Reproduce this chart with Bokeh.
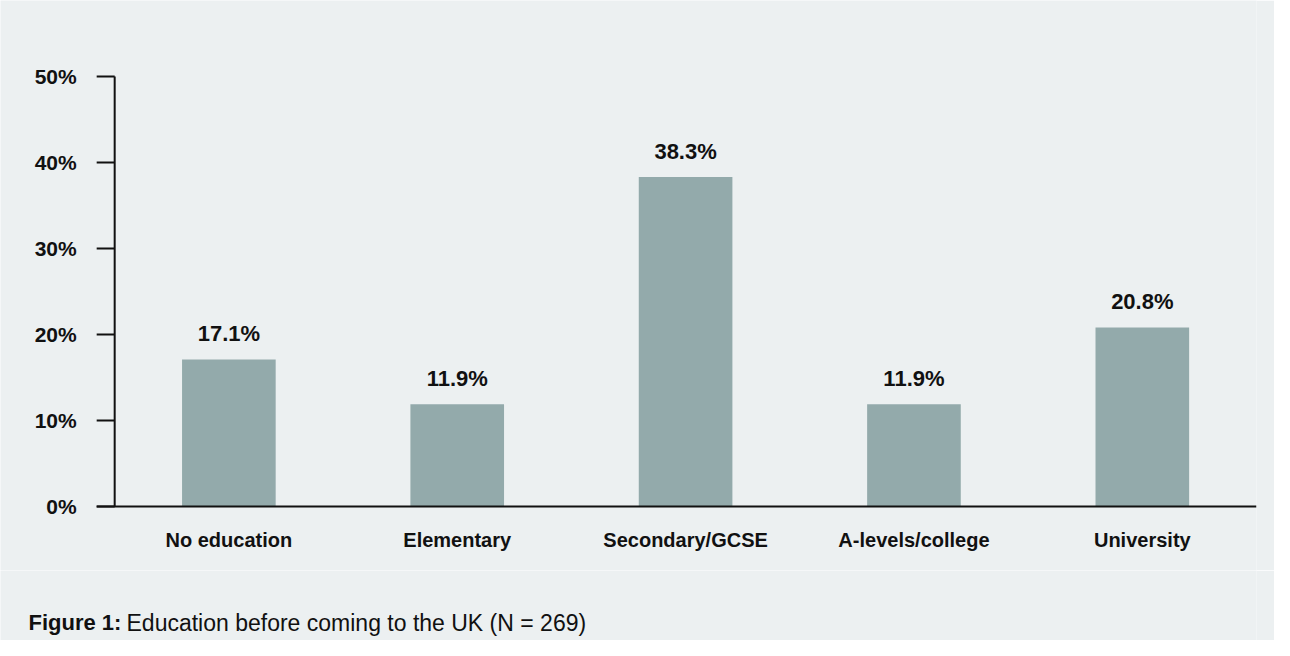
from bokeh.plotting import figure
from bokeh.layouts import column
from bokeh.core.properties import value
from bokeh.models import ColumnDataSource
from bokeh.embed import file_html
from bokeh.resources import INLINE

categories = ["No education", "Elementary", "Secondary/GCSE", "A-levels/college", "University"]
percentages = [17.1, 11.9, 38.3, 11.9, 20.8]
y_ticks = [0, 10, 20, 30, 40, 50]
y_tick_labels = ["0%", "10%", "20%", "30%", "40%", "50%"]
caption_bold = "Figure 1:"
caption_rest = "Education before coming to the UK (N = 269)"

BG = "#ECF0F1"
BAR = "#93AAAB"
INK = "#111111"
FONT = "Liberation Sans"
W = 1274
H_CHART = 570
FRAME_RIGHT_PAD = 18

xs = list(range(len(categories)))
src = ColumnDataSource(dict(x=xs, y=percentages,
                            lbl=[f"{v:.1f}%" for v in percentages]))

# ranges chosen so the plot frame fills the whole canvas (nothing gets clipped)
X0, X1 = -1.0, 4.5
SPINE_X = -0.5                                   # left edge of the first category slot
PX_PER_UNIT = (W - FRAME_RIGHT_PAD) / (X1 - X0)
TICK_LEN = 18 / PX_PER_UNIT
PX_PER_PCT = 8.6
TOP_PAD_PX, BOTTOM_PAD_PX = 76, 64
Y0 = -BOTTOM_PAD_PX / PX_PER_PCT
Y1 = y_ticks[-1] + TOP_PAD_PX / PX_PER_PCT

p = figure(width=W, height=H_CHART, output_backend="svg", toolbar_location=None,
           x_range=(X0, X1), y_range=(Y0, Y1),
           background_fill_color=BG, border_fill_color=BG,
           min_border_left=0, min_border_right=FRAME_RIGHT_PAD,
           min_border_top=0, min_border_bottom=0)
p.outline_line_color = None
p.grid.grid_line_color = None
p.axis.visible = False

p.vbar(x="x", top="y", width=0.41, bottom=0, source=src, color=BAR, line_color=None)
p.text(x="x", y="y", text="lbl", source=src, text_align="center", text_baseline="alphabetic",
       y_offset=-26, text_font=value(FONT), text_font_style="bold", text_font_size="22px",
       text_color=INK)

# hand-built y axis: spine, inward ticks, labels
p.segment(x0=[SPINE_X], y0=[y_ticks[0]], x1=[SPINE_X], y1=[y_ticks[-1]],
          line_color=INK, line_width=2)
p.segment(x0=[SPINE_X - TICK_LEN] * len(y_ticks), y0=y_ticks,
          x1=[SPINE_X] * len(y_ticks), y1=y_ticks, line_color=INK, line_width=2)
p.text(x=[SPINE_X] * len(y_ticks), y=y_ticks, text=y_tick_labels, x_offset=-38,
       text_align="right", text_baseline="middle", text_font=value(FONT),
       text_font_style="bold", text_font_size="21px", text_color=INK)
# baseline (x axis line), starting at the tick ends
p.segment(x0=[SPINE_X - TICK_LEN], y0=[0], x1=[X1], y1=[0], line_color=INK, line_width=2)

# category labels under the baseline
p.text(x=xs, y=[0] * len(xs), text=categories, y_offset=33,
       text_align="center", text_baseline="middle", text_font=value(FONT),
       text_font_style="bold", text_font_size="20px", text_color=INK)

# caption strip
c = figure(width=W, height=70, output_backend="svg", toolbar_location=None,
           x_range=(0, W - FRAME_RIGHT_PAD), y_range=(0, 70),
           background_fill_color=BG, border_fill_color=BG,
           min_border_left=0, min_border_right=FRAME_RIGHT_PAD, min_border_top=0, min_border_bottom=0)
c.axis.visible = False
c.grid.grid_line_color = None
c.outline_line_color = None
c.text(x=[28], y=[18], text=[caption_bold], text_baseline="middle",
       text_font=value(FONT), text_font_style="bold", text_font_size="22px", text_color=INK)
c.text(x=[126], y=[18], text=[caption_rest], text_baseline="middle",
       text_font=value(FONT), text_font_size="23px", text_color=INK)

layout = column(p, c, spacing=0)
open("out.html", "w").write(file_html(layout, INLINE))
